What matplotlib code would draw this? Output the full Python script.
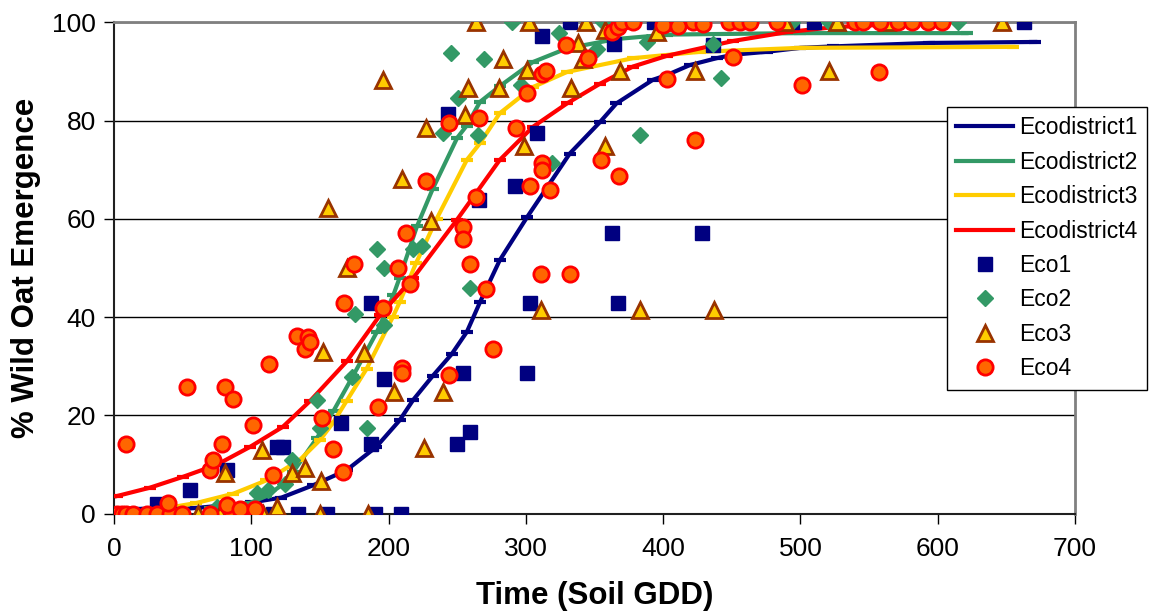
import matplotlib
matplotlib.use('Agg')
import matplotlib.pyplot as plt

plt.rcParams['font.family'] = ['Liberation Sans', 'DejaVu Sans']

# fitted emergence curves (GDD, % emergence)
fit1_x = [3, 20, 40, 60, 80, 100, 122, 145, 169.5, 191, 208, 218, 232, 246, 257, 266.5,
          281, 301, 332, 354, 366, 392.5, 403, 419.5, 439, 451, 475.6, 500, 524, 594, 671]
fit1_y = [0.2, 0.4, 0.8, 1.2, 1.7, 2.3, 3.3, 5.8, 8.9, 13.6, 19.0, 23.2, 28.0, 32.5, 37.0, 43.0,
          51.6, 60.4, 73.3, 79.7, 83.5, 88.3, 89.3, 91.3, 92.7, 93.4, 94.0, 94.8, 95.1, 95.8, 96.0]

fit2_x = [70, 99, 111, 124, 130.5, 148, 160, 174, 191.5, 203.5, 208, 220.7, 232, 250, 257,
          266.6, 281, 305, 330, 366, 403, 500, 621]
fit2_y = [1.2, 2.2, 3.6, 6.2, 8.5, 15.5, 21.0, 28.0, 37.0, 44.5, 48.0, 58.5, 66.0, 76.5, 79.0,
          83.8, 87.0, 91.9, 94.7, 96.6, 97.5, 97.8, 97.8]

fit3_x = [30, 43, 60, 87, 111, 135.5, 150, 159.5, 169.5, 184, 203, 208, 220, 235, 257, 266.6,
          281, 305, 330, 378, 427, 500, 655]
fit3_y = [0.9, 1.4, 2.2, 4.1, 6.8, 11.0, 15.0, 18.5, 23.0, 29.5, 40.0, 43.0, 51.0, 60.0, 72.0,
          75.4, 81.5, 86.8, 89.9, 92.7, 94.0, 94.8, 95.0]

fit4_x = [2, 26, 50, 75, 99, 123, 143, 169.5, 194, 218, 249.5, 281, 305, 330, 354, 378, 403,
          451, 490, 524, 560, 603]
fit4_y = [3.6, 5.3, 7.5, 10.0, 13.6, 17.7, 23.0, 31.0, 40.5, 48.0, 59.7, 72.0, 78.7, 83.5,
          87.5, 91.0, 93.2, 96.2, 98.0, 99.0, 99.5, 99.7]

# observed emergence
eco1_x = [8, 15, 25, 31, 45, 55, 82, 116, 119, 123, 134, 155, 165, 187, 187, 190, 197, 209,
          243, 250, 254, 259, 266, 292, 301, 303, 308, 312, 332, 363, 364, 366, 367, 393,
          410, 428, 436, 494, 510, 663]
eco1_y = [0, 0, 0, 2, 0, 4.8, 8.9, 0, 13.6, 13.6, 0, 0, 18.4, 14.3, 42.8, 0, 27.4, 0,
          81.3, 14.3, 28.6, 16.6, 63.8, 66.7, 28.6, 42.8, 77.4, 97.2, 100, 57.1, 95.6, 100, 42.8, 100,
          100, 57.1, 95.4, 100, 100, 100]

eco2_x = [75, 99, 104, 112, 124.5, 130, 148, 150, 173, 175.5, 184, 191.5, 196.5, 197, 218,
          224, 240, 245.5, 250.5, 259, 265, 269.5, 290, 296.5, 319, 324, 352, 356, 383, 388,
          436, 442, 494, 521, 615]
eco2_y = [1.4, 0.5, 4.2, 4.8, 6.0, 10.9, 23.2, 17.5, 27.8, 40.6, 17.4, 53.9, 50.0, 38.4, 53.9,
          54.5, 77.4, 93.7, 84.6, 46.0, 77.0, 92.5, 100, 87.2, 71.4, 97.8, 94.5, 100, 77.0, 96.0,
          95.6, 88.6, 100, 100, 100]

eco3_x = [61, 77, 81, 92, 108, 108.5, 119, 130, 139, 150, 151, 152, 156, 170, 182, 185, 196,
          204, 210, 226, 227, 231, 240, 256, 258, 264, 280.5, 283, 298.6, 301, 302, 311, 333,
          338, 341.6, 344, 357.6, 358, 368.5, 383, 395.6, 404, 423, 437, 489, 521, 527, 563, 647]
eco3_y = [0, 0, 8.3, 0, 13.0, 0, 1.4, 8.3, 9.3, 0, 6.7, 33.0, 62.3, 50.0, 32.8, 0, 88.3,
          24.7, 68.1, 13.3, 78.5, 59.6, 24.7, 81.2, 86.7, 100, 86.6, 92.6, 74.8, 90.2, 100, 41.4, 86.6,
          95.7, 92.5, 100, 74.8, 98.4, 90.0, 41.4, 98.0, 100, 90.0, 41.4, 100, 90.0, 100, 100, 100]

eco4_x = [2, 6, 9, 14, 24, 31, 41, 49.5, 70, 86, 8.7, 39, 53, 70, 72.4, 78.5, 81, 82, 87, 92,
          101, 103, 113, 116, 133, 139, 141, 143, 151.5, 159.5, 167, 167.5, 175, 192, 196, 207,
          210, 210, 213, 215.6, 227, 244, 244, 254, 254, 259, 264, 266, 271, 276, 293, 301, 303,
          311, 312, 312, 312, 315, 317.5, 329, 332, 345, 354.6, 363, 367, 368, 370, 378, 400, 403,
          411, 422, 423, 429, 448, 451, 456, 463, 483, 501, 540, 545.5, 557, 558, 571, 581, 593, 603]
eco4_y = [0, 0, 0, 0, 0, 0, 0, 0, 0, 0, 14.2, 2.1, 25.8, 9.0, 11.0, 14.3, 25.8, 1.8, 23.3, 0.9,
          18.1, 1.0, 30.4, 7.8, 36.2, 33.6, 35.9, 35.0, 19.5, 13.2, 8.6, 42.9, 50.8, 21.7, 41.8, 50.0,
          29.6, 28.6, 57.1, 46.7, 67.8, 79.5, 28.3, 58.4, 55.9, 50.9, 64.4, 80.5, 45.8, 33.5, 78.5, 85.7, 66.6,
          48.7, 89.5, 71.3, 69.9, 90.1, 65.8, 95.4, 48.7, 92.8, 72.0, 98.0, 99.1, 68.7, 100, 100, 99.4, 88.5,
          99.2, 100, 76.0, 99.6, 100, 93.0, 100, 100, 100, 87.3, 100, 100, 89.8, 100, 100, 100, 100, 100]

fig = plt.figure(figsize=(11.5, 6.14), dpi=100)
ax = fig.add_axes([114 / 1150, 1 - 513.8 / 614, (1075 - 114) / 1150, (513.8 - 22.3) / 614])

fits = [(fit1_x, fit1_y, '#000080', 'Ecodistrict1'),
        (fit2_x, fit2_y, '#339966', 'Ecodistrict2'),
        (fit3_x, fit3_y, '#FFCC00', 'Ecodistrict3'),
        (fit4_x, fit4_y, '#FF0000', 'Ecodistrict4')]
for fx, fy, c, lab in fits:
    ax.plot(fx, fy, color=c, lw=3, marker='_', ms=8, mew=3, label=lab, zorder=3)

ax.plot(eco1_x, eco1_y, ls='none', marker='s', ms=10.5, mfc='#000080', mec='#000080',
        label='Eco1', zorder=4)
ax.plot(eco2_x, eco2_y, ls='none', marker='D', ms=8, mfc='#339966', mec='#339966',
        label='Eco2', zorder=4)
ax.plot(eco3_x, eco3_y, ls='none', marker='^', ms=11, mfc='#FFCC00', mec='#993300', mew=2,
        label='Eco3', zorder=4)
ax.plot(eco4_x, eco4_y, ls='none', marker='o', ms=11, mfc='#FF6600', mec='#FF0000', mew=2,
        label='Eco4', zorder=5)

ax.set_xlim(0, 700)
ax.set_ylim(0, 100)
ax.set_xticks(range(0, 701, 100))
ax.set_yticks(range(0, 101, 20))
ax.tick_params(axis='both', direction='out', length=7, width=1, labelsize=19, colors='black')
ax.tick_params(axis='x', pad=10)
ax.tick_params(axis='y', pad=6)
ax.yaxis.grid(True, color='black', lw=1)
ax.set_axisbelow(True)

for s in ['top', 'right']:
    ax.spines[s].set_color('#808080')
    ax.spines[s].set_linewidth(2)
for s in ['left', 'bottom']:
    ax.spines[s].set_color('#202020')
    ax.spines[s].set_linewidth(1.5)

ax.set_xlabel('Time (Soil GDD)', fontsize=22.5, fontweight='bold', labelpad=14)
ax.set_ylabel('% Wild Oat Emergence', fontsize=22.5, fontweight='bold', labelpad=8)

# legend box sits over the right edge of the plot area
leg = ax.legend(loc='upper left', bbox_to_anchor=(947 / 1150, 1 - 107 / 614),
                bbox_transform=fig.transFigure, borderaxespad=0, fontsize=16.5,
                frameon=True, fancybox=False, edgecolor='black', framealpha=1,
                handlelength=2.5, handletextpad=0.25, labelspacing=0.5,
                borderpad=0.4, numpoints=1)
leg.get_frame().set_linewidth(1)
leg.set_zorder(10)
for h in leg.get_lines()[:4]:
    h.set_marker('')

fig.savefig('out.png', dpi=100)
